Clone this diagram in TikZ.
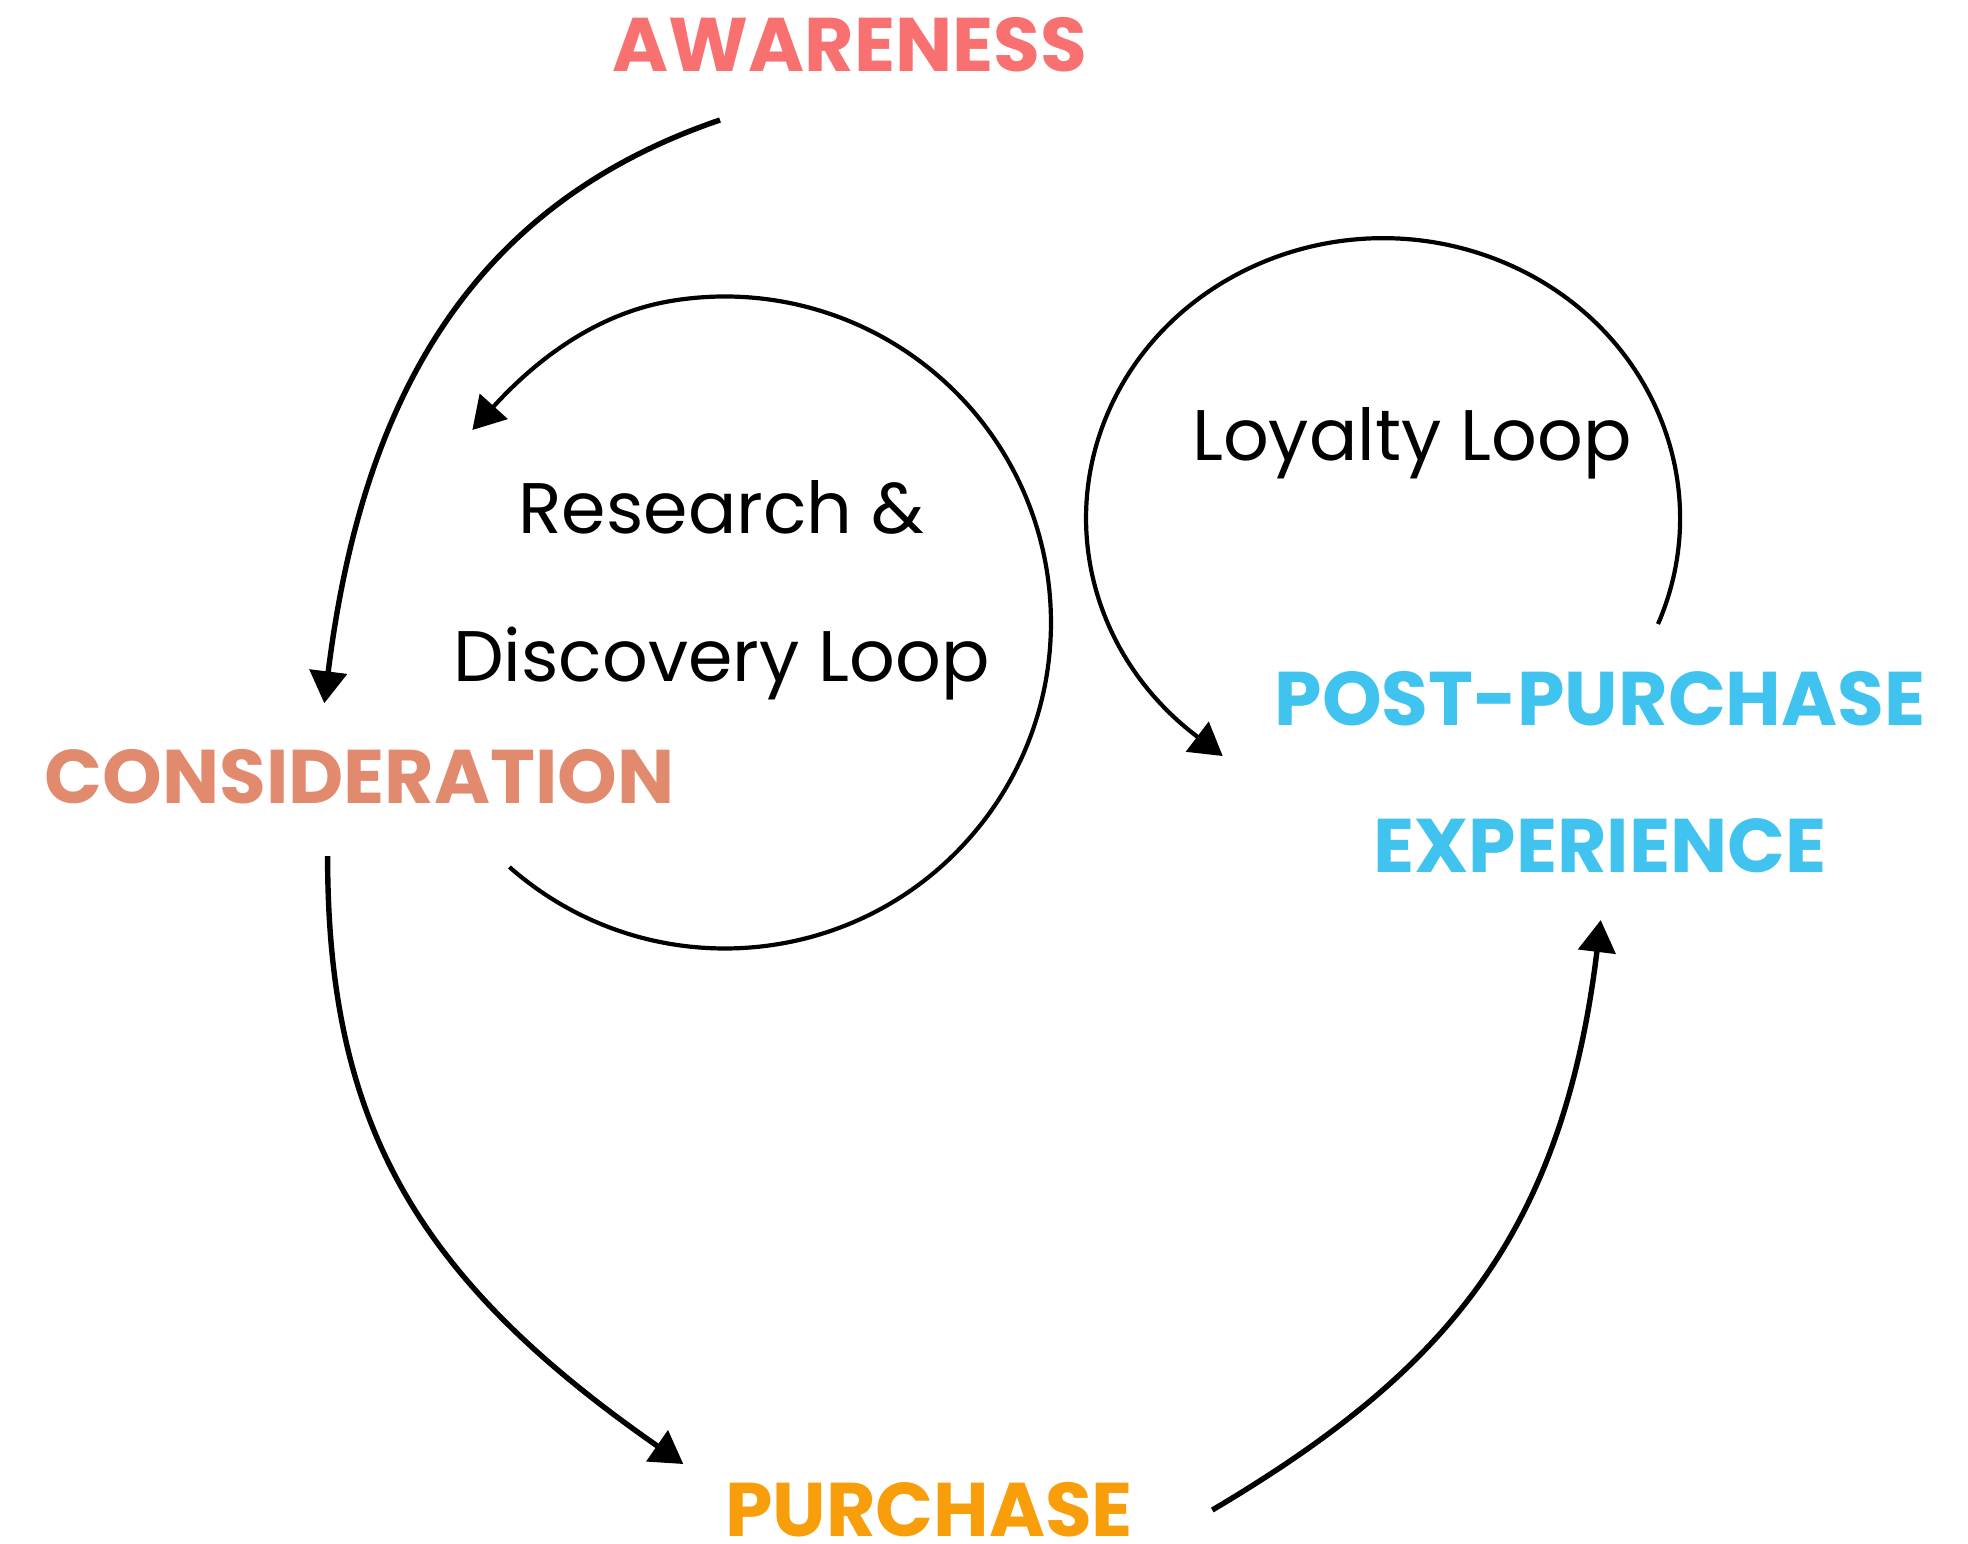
\documentclass[tikz,border=0pt]{standalone}
\usepackage{fontspec}
\setmainfont{Poppins}
\usetikzlibrary{arrows.meta}
\definecolor{cAw}{RGB}{249,112,112}
\definecolor{cCon}{RGB}{226,138,110}
\definecolor{cPur}{RGB}{249,158,11}
\definecolor{cPost}{RGB}{64,195,238}
\begin{document}
\begin{tikzpicture}[x=0.5pt,y=-0.5pt,
  stage/.style={font=\fontsize{38}{73.3}\selectfont\bfseries, inner sep=0pt, anchor=base, align=center},
  looplabel/.style={font=\fontsize{35.8}{74}\selectfont, inner sep=0pt, anchor=base, align=center},
  flow/.style={line width=2.7pt, -{Triangle[length=16pt,width=18.5pt]}},
  loopline/.style={line width=2.1pt, -{Triangle[length=16pt,width=18.5pt]}}]
\useasboundingbox[fill=white] (0,0) rectangle (1968,1543);

% stage labels
\node[stage, text=cAw]   (aw)  at (850,71.5)   {AWARENESS};
\node[stage, text=cCon]  (con) at (359.6,803)  {CONSIDERATION};
\node[stage, text=cPur]  (pur) at (929,1536.5) {PURCHASE};
\node[stage, text=cPost] (pp)  at (1600,872)   {POST-PURCHASE\\EXPERIENCE};

% loop labels
\node[looplabel] (rd) at (721.5,681.5) {Research \&\\Discovery Loop};
\node[looplabel] (ly) at (1412,460.6)  {Loyalty Loop};

% connector end points
\coordinate (a1s) at (720,120);
\coordinate (a1e) at (324.3,703.3);
\coordinate (a2s) at (327.6,856);
\coordinate (a2e) at (683.3,1464);
\coordinate (a3s) at (1212.3,1510);
\coordinate (a3e) at (1600.7,920);
\coordinate (rs)  at (509.4,867);
\coordinate (re)  at (472.3,430);
\coordinate (ls)  at (1658,624);
\coordinate (le)  at (1222.7,756);

% main flow
\draw[flow] (a1s) .. controls (470,205) and (362,400) .. (a1e);
\draw[flow] (a2s) .. controls (327.6,1120) and (412.7,1275.9) .. (a2e);
\draw[flow] (a3s) .. controls (1440,1375) and (1562,1240) .. (a3e);

% loops
\draw[loopline] (rs) arc[start angle=131.4, end angle=-100, radius=326]
  .. controls (587.6,315.8) and (527.3,369.3) .. (re);
\draw[loopline] (ls) arc[start angle=22.2, end angle=-231.3, x radius=297, y radius=280] -- (le);
\end{tikzpicture}
\end{document}
